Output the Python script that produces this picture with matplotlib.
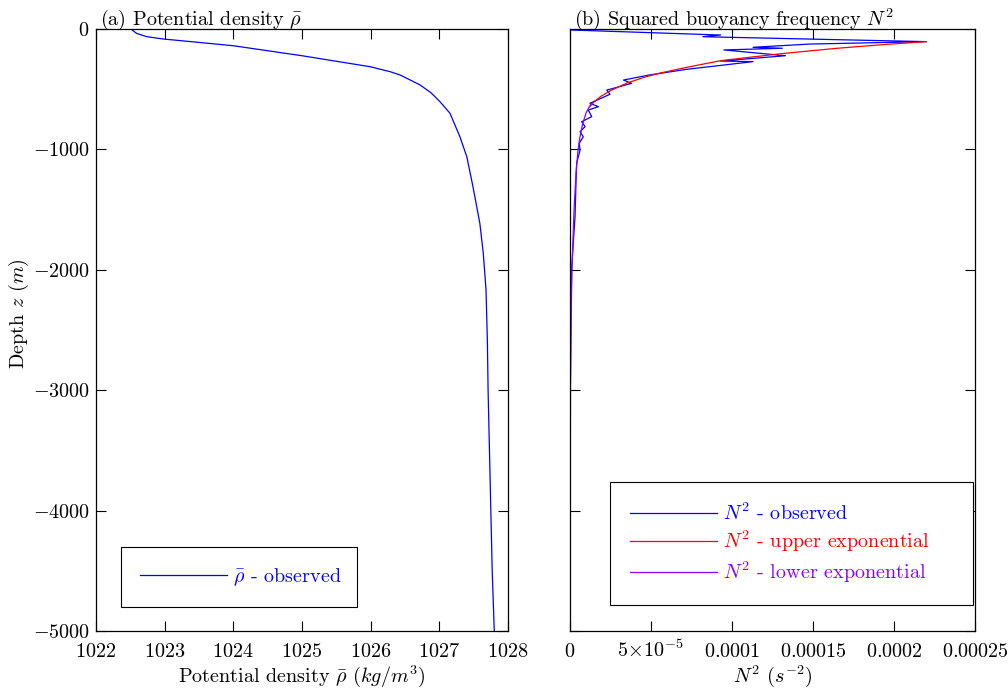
import matplotlib
matplotlib.use("Agg")
import matplotlib.pyplot as plt

plt.rcParams['font.family'] = 'serif'
plt.rcParams['font.serif'] = ['cmr10', 'DejaVu Serif']
plt.rcParams['mathtext.fontset'] = 'cm'
plt.rcParams['axes.formatter.use_mathtext'] = True
FS = 14.5

# potential density profile
rho_depth = [-5, -36, -64, -83, -139, -222, -313, -354, -382, -465, -530, -604, -700, -895,
             -1061, -1310, -1614, -1863, -2168, -2600, -3000, -3500, -4000, -4500, -5000]
rho_obs = [1022.52, 1022.59, 1022.74, 1022.98, 1024.0, 1025.0, 1025.99, 1026.28, 1026.43,
           1026.72, 1026.88, 1027.01, 1027.155, 1027.30, 1027.40, 1027.49, 1027.59, 1027.64,
           1027.68, 1027.70, 1027.71, 1027.73, 1027.75, 1027.77, 1027.80]

# buoyancy frequency, observed
n2_depth = [-8, -50, -64, -105, -125, -152, -160, -174, -222, -266, -271, -335, -382,
            -424, -451, -493, -507, -542, -617, -645, -673, -728, -770, -811, -853, -895,
            -949, -1005, -1115, -1279, -1559, -1780, -2000, -2390, -3000, -4000, -5000]
n2_obs = [0.0, 9.3e-5, 8.2e-5, 2.2e-4, 1.48e-4, 1.13e-4, 1.31e-4, 9.5e-5, 1.33e-4,
          9.3e-5, 1.13e-4, 7.2e-5, 4.9e-5, 3.3e-5, 3.8e-5, 2.67e-5, 2.27e-5, 2.47e-5,
          1.23e-5, 1.75e-5, 1.13e-5, 1.34e-5, 7.2e-6, 9.3e-6, 6.2e-6, 8.2e-6, 5.7e-6,
          6.2e-6, 4.1e-6, 3.7e-6, 3.1e-6, 2.0e-6, 1.0e-6, 6e-7, 2e-7, 1e-7, 5e-8]

# upper exponential fit
up_depth = [-105, -130, -160, -200, -230, -263, -300, -330, -368, -400, -450, -512,
            -560, -604, -640]
up_n2 = [2.2e-4, 1.93e-4, 1.65e-4, 1.34e-4, 1.14e-4, 9.3e-5, 7.9e-5, 6.8e-5, 5.5e-5,
         4.6e-5, 3.5e-5, 2.5e-5, 1.9e-5, 1.5e-5, 1.25e-5]

# lower exponential fit
lo_depth = [-620, -700, -800, -900, -1000, -1200, -1500, -2000, -2500, -3000, -4000, -5000]
lo_n2 = [1.3e-5, 9.8e-6, 7.6e-6, 6.1e-6, 5.0e-6, 3.7e-6, 2.5e-6, 1.2e-6, 6e-7, 3e-7, 1e-7, 3e-8]

rho_ticks = [1022, 1023, 1024, 1025, 1026, 1027, 1028]
n2_ticks = [0, 5e-5, 1e-4, 1.5e-4, 2e-4, 2.5e-4]
n2_ticklabels = ['$0$', r'$5\!\times\!10^{-5}$', '$0.0001$', '$0.00015$', '$0.0002$', '$0.00025$']
depth_ticks = [0, -1000, -2000, -3000, -4000, -5000]

fig = plt.figure(figsize=(10.08, 6.88), dpi=100)
axA = fig.add_axes([96 / 1008, 57 / 688, 412 / 1008, 602 / 688])
axB = fig.add_axes([570 / 1008, 57 / 688, 405 / 1008, 602 / 688])

for ax in (axA, axB):
    ax.tick_params(direction='in', length=7, width=0.8, top=True, right=True, labelsize=FS)
    ax.tick_params(axis='x', pad=18.5)
    ax.tick_params(axis='y', pad=4.5)
    ax.set_ylim(-5000, 0)
    ax.set_yticks(depth_ticks)
    for s in ax.spines.values():
        s.set_linewidth(0.9)

# (a)
axA.plot(rho_obs, rho_depth, color='#0000ff', lw=0.9, label=r'$\bar{\rho}$ - observed')
axA.set_xlim(1022, 1028)
axA.set_xticks(rho_ticks)
axA.set_xticklabels(['$%d$' % t for t in rho_ticks])
axA.set_yticklabels(['$%d$' % t for t in depth_ticks])
axA.set_xlabel(r'Potential density $\bar{\rho}$ $(kg/m^3)$', fontsize=FS, labelpad=2)
axA.set_ylabel(r'Depth $z$ $(m)$', fontsize=FS)
axA.yaxis.set_label_coords(-0.158, 0.527)
axA.set_title(r'(a) Potential density $\bar{\rho}$', loc='left', fontsize=FS, pad=3, x=0.01)
legA = axA.legend(loc='lower left', bbox_to_anchor=(0.061, 0.04, 0.572, 0.098), mode='expand',
                  borderaxespad=0, fancybox=False, framealpha=1, edgecolor='black',
                  handlelength=4.3, handletextpad=0.3, borderpad=0.95, fontsize=FS)
legA.get_frame().set_linewidth(0.8)
for t in legA.get_texts():
    t.set_color('#0000ff')

# (b)
axB.plot(n2_obs, n2_depth, color='#0000ff', lw=0.9, label=r'$N^2$ - observed')
axB.plot(up_n2, up_depth, color='#ff0000', lw=0.9, label=r'$N^2$ - upper exponential')
axB.plot(lo_n2, lo_depth, color='#8a00ff', lw=0.9, label=r'$N^2$ - lower exponential')
axB.set_xlim(0, 2.5e-4)
axB.set_xticks(n2_ticks)
axB.set_xticklabels(n2_ticklabels)
axB.set_yticklabels([])
axB.set_xlabel(r'$N^2$ $(s^{-2})$', fontsize=FS, labelpad=2)
axB.set_title(r'(b) Squared buoyancy frequency $N^2$', loc='left', fontsize=FS, pad=3, x=0.01)
legB = axB.legend(loc='lower left', bbox_to_anchor=(0.099, 0.043, 0.896, 0.198), mode='expand',
                  borderaxespad=0, fancybox=False, framealpha=1, edgecolor='black',
                  handlelength=4.3, handletextpad=0.3, borderpad=1.0, labelspacing=0.25,
                  fontsize=FS)
legB.get_frame().set_linewidth(0.8)
for t, line in zip(legB.get_texts(), legB.get_lines()):
    t.set_color(line.get_color())

# put tick labels on a shared baseline so the 10^-5 label lines up
for ax in (axA, axB):
    for lab in ax.get_xticklabels():
        lab.set_verticalalignment('baseline')

fig.savefig('out.png', dpi=100)
